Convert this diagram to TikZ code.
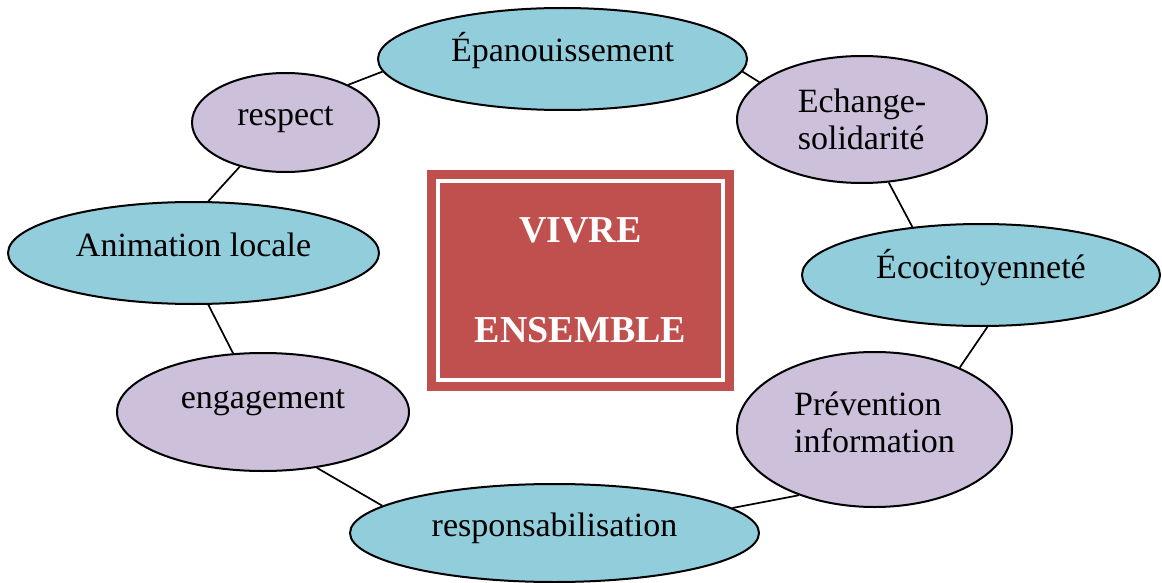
\documentclass[tikz,border=0pt]{standalone}
\usepackage{fontspec}
\setmainfont{Liberation Serif}
\usetikzlibrary{shapes.geometric}
\definecolor{cielbleu}{HTML}{92CDDC}
\definecolor{lilas}{HTML}{CCC0DA}
\definecolor{brique}{HTML}{C0504D}
\tikzset{
  valeur/.style={ellipse, draw=black, line width=2pt, inner sep=0pt,
    font=\fontsize{34}{37}\selectfont},
  uneligne/.style={text height=26pt, text depth=20pt},
  bleue/.style={valeur, uneligne, fill=cielbleu},
  mauve/.style={valeur, fill=lilas, align=left},
  noyau/.style={rectangle, fill=brique, draw=brique, double=white,
    double distance=4.3pt, line width=9pt, align=center, text=white,
    font=\bfseries\fontsize{38}{100}\selectfont,
    minimum width=285.5, minimum height=199.5}
}
\begin{document}
\begin{tikzpicture}[x=1pt,y=-1pt]
      \useasboundingbox (0,0) rectangle (1162,583);
      \draw
        (580.5,280.5) node[noyau] (vivre){VIVRE\\ENSEMBLE}
        (562.5,59) node[bleue, minimum width=369, minimum height=102] (epan){Épanouissement}
        (862,119.5) node[mauve, minimum width=250, minimum height=127] (echange){Echange-\\solidarité}
        (981,275) node[bleue, minimum width=358, minimum height=102] (ecocit){Écocitoyenneté}
        (874.5,429.5) node[mauve, text depth=14pt, minimum width=275, minimum height=155] (prevention){Prévention\\information}
        (554.5,533) node[bleue, minimum width=409, minimum height=98] (respons){responsabilisation}
        (263,412) node[mauve, uneligne, text depth=34pt, minimum width=292, minimum height=118] (engagement){engagement}
        (193.5,253) node[bleue, minimum width=371, minimum height=102] (animation){Animation locale}
        (285.5,122.5) node[mauve, uneligne, minimum width=187, minimum height=99] (respect){respect};
      \begin{scope}[-, line width=1.7pt]
        \draw (respect.31) to (epan.184);
        \draw (epan.356) to (echange.160);
        \draw (echange.293) to (ecocit.145);
        \draw (ecocit.277) to (prevention.36);
        \draw (prevention.221) to (respons.8);
        \draw (respons.171) to (engagement.314);
        \draw (engagement.117) to (animation.286);
        \draw (animation.74) to (respect.224);
      \end{scope}
    \end{tikzpicture}
\end{document}
